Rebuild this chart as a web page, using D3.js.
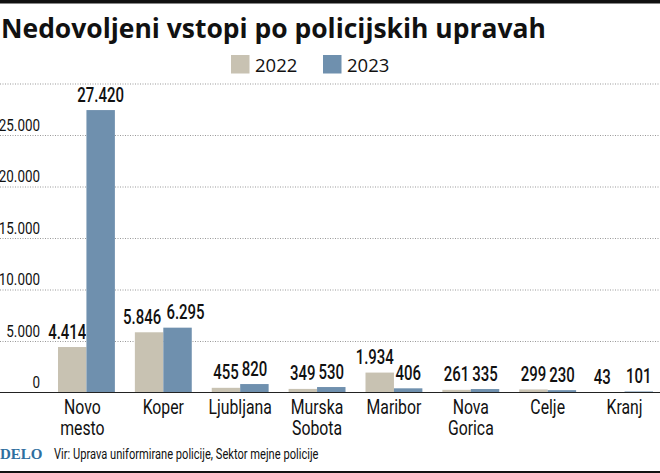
<!DOCTYPE html>
<html>
<head>
<meta charset="utf-8">
<script src="https://cdn.jsdelivr.net/npm/d3@7"></script>
<style>
  html, body { margin: 0; padding: 0; background: #fff; }
  svg { display: block; }
  text { font-family: "Roboto", sans-serif; fill: #111; }
</style>
</head>
<body>
<div id="chart"></div>
<script>
// Data
var categories = ["Novo mesto", "Koper", "Ljubljana", "Murska Sobota", "Maribor", "Nova Gorica", "Celje", "Kranj"];
var years = ["2022", "2023"];
var values2022 = [4414, 5846, 455, 349, 1934, 261, 299, 43];
var values2023 = [27420, 6295, 820, 530, 406, 335, 230, 101];
var yTicks = [0, 5000, 10000, 15000, 20000, 25000, 30000];

var svgWidth = 660;
var svgHeight = 473;
var colors = { "2022": "#c8c2b2", "2023": "#6f90ae" };

// hand placed labels, same as the original graphic (pixels)
var nudge2022 = { "Novo mesto": -5, "Koper": -7, "Maribor": -5, "Kranj": -8 };
var nudge2023 = { "Koper": 8 };
var catNudge = { "Novo mesto": -4 };

var svg = d3.select("#chart").append("svg")
    .attr("width", svgWidth)
    .attr("height", svgHeight);

// thousands are written with a dot
var fmt = d3.formatLocale({ decimal: ",", thousands: ".", grouping: [3], currency: ["", ""] }).format(",d");

// the original font is condensed, so squeeze the text horizontally
function squeeze(sel, sx) {
    sel.each(function () {
        var t = d3.select(this);
        var px = +t.attr("x") || 0;
        var py = +t.attr("y") || 0;
        t.attr("x", null).attr("y", null)
            .attr("transform", "translate(" + px + "," + py + ") scale(" + sx + ",1)");
    });
}

var x = d3.scaleBand()
    .domain(categories)
    .range([48, 663])
    .paddingInner(0.26)
    .paddingOuter(0.13);

var xInner = d3.scaleBand()
    .domain(years)
    .range([0, x.bandwidth()]);

var y = d3.scaleLinear()
    .domain([0, 30000])
    .range([392.5, 83.5]);

// top and bottom rules
svg.append("rect").attr("width", svgWidth).attr("height", 3.5).attr("fill", "#111");
svg.append("rect").attr("y", 471).attr("width", svgWidth).attr("height", 2).attr("fill", "#111");

// title
svg.append("text")
    .attr("x", 1)
    .attr("y", 38)
    .style("font-family", "'Open Sans', sans-serif")
    .style("font-weight", 700)
    .style("font-size", "27px")
    .text("Nedovoljeni vstopi po policijskih upravah")
    .call(squeeze, 0.98);

// legend
var legendX = { "2022": 231, "2023": 323 };
years.forEach(function (yr) {
    svg.append("rect")
        .attr("x", legendX[yr]).attr("y", 55)
        .attr("width", 18.5).attr("height", 18.5)
        .attr("fill", colors[yr]);
    svg.append("text")
        .attr("x", legendX[yr] + 24).attr("y", 71.5)
        .style("font-family", "'Open Sans', sans-serif")
        .style("font-size", "18.5px")
        .text(yr);
});

// y axis: dotted grid lines with labels sitting on top of them
var yAxis = svg.append("g")
    .call(d3.axisLeft(y).tickValues(yTicks).tickSize(0).tickFormat(function (d) { return d === 30000 ? "" : fmt(d); }));
yAxis.select(".domain").remove();
yAxis.selectAll("line")
    .attr("x1", 0)
    .attr("x2", svgWidth)
    .attr("stroke", "#999")
    .attr("stroke-width", 1)
    .attr("stroke-dasharray", "1 1.5")
    .attr("display", function (d) { return d === 0 ? "none" : null; });
yAxis.selectAll("text")
    .attr("x", 40)
    .attr("y", -5)
    .attr("dy", 0)
    .attr("text-anchor", "end")
    .style("font-size", "17px")
    .call(squeeze, 0.79);

// bars
var groups = svg.append("g")
    .selectAll("g")
    .data(categories)
    .enter()
    .append("g")
    .attr("transform", function (d) { return "translate(" + x(d) + ",0)"; });

years.forEach(function (yr, k) {
    var vals = k === 0 ? values2022 : values2023;
    var nudge = k === 0 ? nudge2022 : nudge2023;
    groups.append("rect")
        .attr("x", xInner(yr))
        .attr("width", xInner.bandwidth())
        .attr("y", function (d, i) { return y(vals[i]); })
        .attr("height", function (d, i) { return y(0) - y(vals[i]); })
        .attr("fill", colors[yr]);
    groups.append("text")
        .attr("x", function (d) { return xInner(yr) + xInner.bandwidth() / 2 + (nudge[d] || 0); })
        .attr("y", function (d, i) { return y(vals[i]) - 8.5; })
        .attr("text-anchor", "middle")
        .style("font-size", "20.5px")
        .style("font-weight", 500)
        .text(function (d, i) { return fmt(vals[i]); })
        .call(squeeze, 0.73);
});

// baseline
svg.append("line")
    .attr("x1", 0).attr("x2", svgWidth)
    .attr("y1", y(0)).attr("y2", y(0))
    .attr("stroke", "#222").attr("stroke-width", 1.2);

// category labels, broken over two lines
groups.each(function (d) {
    var g = d3.select(this);
    d.split(" ").forEach(function (w, i) {
        g.append("text")
            .attr("x", x.bandwidth() / 2 + (catNudge[d] || 0))
            .attr("y", 414 + i * 21)
            .attr("text-anchor", "middle")
            .style("font-size", "20px")
            .text(w)
            .call(squeeze, 0.79);
    });
});

// footer
svg.append("text")
    .attr("x", 0).attr("y", 459)
    .style("font-family", "'Liberation Serif', serif")
    .style("font-weight", 700)
    .style("font-size", "15px")
    .style("fill", "#2f6f9f")
    .text("DELO");
svg.append("text")
    .attr("x", 54).attr("y", 459)
    .style("font-size", "15px")
    .text("Vir: Uprava uniformirane policije, Sektor mejne policije")
    .call(squeeze, 0.742);
</script>
</body>
</html>
